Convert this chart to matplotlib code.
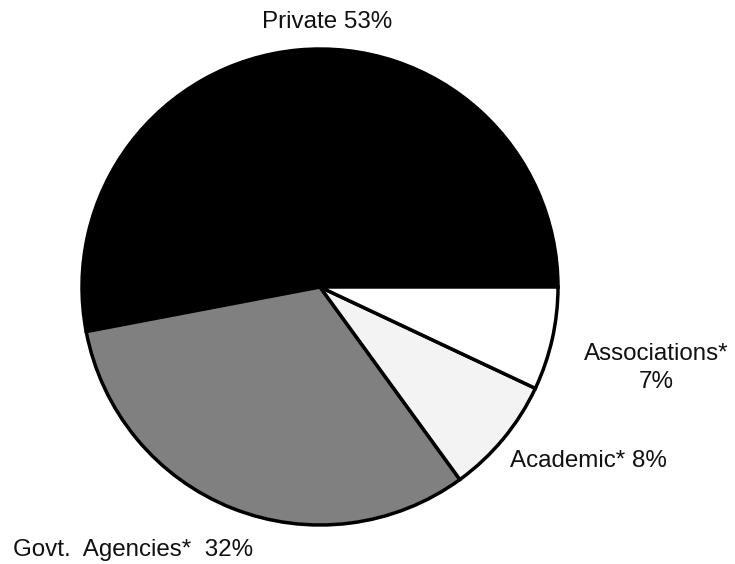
import matplotlib
matplotlib.use("Agg")
import matplotlib.pyplot as plt

categories = ["Private", "Govt. Agencies*", "Academic*", "Associations*"]
shares = [53, 32, 8, 7]
label_texts = ["Private 53%", "Govt.  Agencies*  32%", "Academic* 8%", "Associations*\n7%"]
colors = ["#000000", "#808080", "#f3f3f3", "#ffffff"]

W, H = 735, 564
fig = plt.figure(figsize=(W / 100, H / 100), dpi=100)
ax = fig.add_axes([0, 0, 1, 1])

cx, cy, r = 320, H - 287, 238
wedges, _ = ax.pie(shares, colors=colors, startangle=0, counterclock=True,
                   center=(cx, cy), radius=r, frame=True,
                   wedgeprops=dict(edgecolor="black", linewidth=2.5))
ax.set_xlim(0, W)
ax.set_ylim(0, H)
ax.set_aspect("equal")
ax.axis("off")

font = dict(family=["Liberation Sans", "DejaVu Sans"], fontsize=17.4, color="#111111")
ax.text(327, H - 28, label_texts[0], ha="center", va="baseline", **font)
ax.text(13, H - 556, label_texts[1], ha="left", va="baseline", **font)
ax.text(510, H - 467, label_texts[2], ha="left", va="baseline", **font)
ax.text(656, H - 388, label_texts[3], ha="center", va="baseline", multialignment="center",
        linespacing=1.35, **font)

fig.savefig("out.png", dpi=100)
